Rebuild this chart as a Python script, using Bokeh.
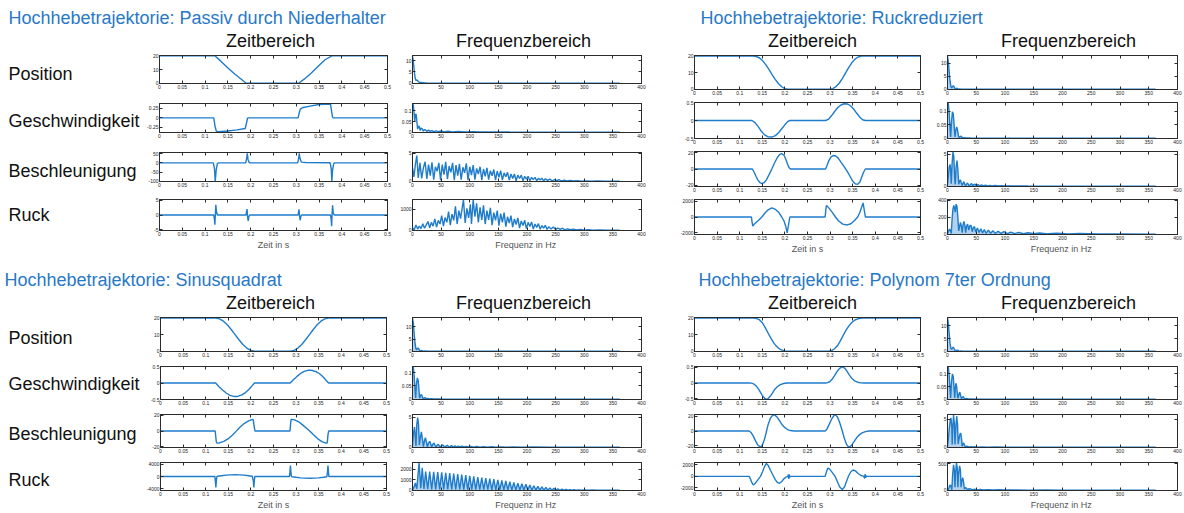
from bokeh.plotting import figure
from bokeh.layouts import row, column
from bokeh.models import (Range1d, FixedTicker, LinearAxis, Spacer, Label, CustomJSTickFormatter,
                          CustomLabelingPolicy)
from bokeh.core.properties import value
from bokeh.embed import file_html
from bokeh.resources import INLINE

FONT = "Liberation Sans"
LINE_COLOR = "#1f7ccb"
TITLE_COLOR = "#2878c8"
FRAME_COLOR = "#2b2b2b"

# ---------------- texts ----------------
TITLES_TOP = ["Hochhebetrajektorie:  Passiv durch Niederhalter", "Hochhebetrajektorie:  Ruckreduziert"]
TITLES_BOTTOM = ["Hochhebetrajektorie:  Sinusquadrat", "Hochhebetrajektorie:  Polynom 7ter Ordnung"]
HEADERS = ["Zeitbereich", "Frequenzbereich"]
ROW_LABELS = ["Position", "Geschwindigkeit", "Beschleunigung", "Ruck"]
AXIS_LABELS = ["Zeit in s", "Frequenz  in Hz"]
JERK_EXPONENT = "\u00d710\u2074"

TIME_TICKS = [0, 0.05, 0.1, 0.15, 0.2, 0.25, 0.3, 0.35, 0.4, 0.45, 0.5]
TIME_TICK_LABELS = ["0", "0.05", "0.1", "0.15", "0.2", "0.25", "0.3", "0.35", "0.4", "0.45", "0.5"]
FREQ_TICKS = [0, 50, 100, 150, 200, 250, 300, 350, 400]
FREQ_TICK_LABELS = ["0", "50", "100", "150", "200", "250", "300", "350", "400"]

# ---------------- Passiv durch Niederhalter ----------------
PASSIV_POS = [(0, 20), (0.122, 20), (0.135, 16.0), (0.15, 11.2), (0.165, 6.8), (0.18, 2.8), (0.19, 0), (0.305, 0),
              (0.318, 3.2), (0.333, 7.5), (0.348, 12.4), (0.363, 17.2), (0.378, 20), (0.5, 20)]
PASSIV_VEL = [(0, 0), (0.119, 0), (0.1215, -0.2), (0.1245, -0.35), (0.128, -0.366), (0.15, -0.345), (0.17, -0.315),
              (0.188, -0.28), (0.1905, -0.15), (0.193, -0.01), (0.195, 0), (0.304, 0), (0.3065, 0.14), (0.309, 0.23),
              (0.313, 0.265), (0.33, 0.31), (0.35, 0.35), (0.375, 0.366), (0.377, 0.2), (0.3795, 0.02), (0.381, 0), (0.5, 0)]
PASSIV_ACC = [(0, 0), (0.118, 0), (0.1205, -30), (0.1222, -100), (0.1245, -35), (0.127, -3), (0.13, 0), (0.189, 0),
              (0.1912, 25), (0.1925, 52), (0.194, 20), (0.1965, 2), (0.2, 0), (0.303, 0), (0.305, 20), (0.3065, 52),
              (0.308, 25), (0.311, 4), (0.32, 1.5), (0.374, 0.5), (0.3765, -30), (0.378, -100), (0.3795, -40),
              (0.382, -4), (0.385, 0), (0.5, 0)]
# jerk shown in units of 10^4
PASSIV_JERK = [(0, 0), (0.119, 0), (0.1205, -1.5), (0.1215, -3.3), (0.1225, 0.3), (0.1235, 3.5), (0.125, 1.0), (0.127, 0),
               (0.19, 0), (0.191, 1.3), (0.192, 2.0), (0.193, -0.3), (0.1945, -2.0), (0.196, -0.5), (0.198, 0),
               (0.304, 0), (0.305, 1.2), (0.306, 1.9), (0.307, -0.2), (0.3085, -1.8), (0.31, -0.4), (0.312, 0),
               (0.375, 0), (0.3765, -1.5), (0.3775, -3.8), (0.3785, 0.2), (0.3795, 3.3), (0.381, 0.8), (0.383, 0), (0.5, 0)]
PASSIV_POS_SPEC = [(0, 11.9), (1.5, 9.5), (3, 5.5), (4.5, 2.4), (6, 1.2), (7.5, 1.5), (9, 1.1), (11, 0.5), (13, 0.35),
                   (15, 0.4), (18, 0.2), (22, 0.15), (27, 0.08), (35, 0.05), (50, 0.03), (80, 0.01), (150, 0.005), (362, 0)]
PASSIV_VEL_SPEC = [(0, 0.133), (1.5, 0.128), (3, 0.08), (4, 0.05), (5, 0.085), (6.5, 0.083), (8, 0.04), (9, 0.015),
                   (10.5, 0.03), (12, 0.026), (13.5, 0.008), (15, 0.02), (17, 0.016), (19, 0.005), (21, 0.013), (23, 0.01),
                   (25, 0.004), (28, 0.01), (31, 0.004), (34, 0.008), (37, 0.003), (41, 0.007), (45, 0.003), (50, 0.006),
                   (55, 0.002), (62, 0.005), (70, 0.002), (80, 0.004), (92, 0.0015), (105, 0.003), (120, 0.001),
                   (140, 0.002), (170, 0.001), (220, 0.0008), (362, 0.0003)]
PASSIV_ACC_SPEC = [(0, 2.4), (2.5, 0.8), (5, 3.0), (7.5, 4.6), (10, 0.6), (13, 3.3), (16, 0.5), (19, 2.4), (22, 3.5),
                   (25, 0.4), (28, 3.0), (31, 1.0), (34, 3.4), (37, 0.3), (40, 2.6), (43, 1.8), (46, 3.3), (49, 0.2),
                   (52, 3.0), (55, 1.2), (58, 3.5), (61, 0.4), (64, 2.7), (67, 1.6), (70, 3.3), (73, 0.2), (76, 2.9),
                   (79, 1.0), (82, 3.1), (85, 0.3), (88, 2.5), (91, 1.5), (94, 3.2), (97, 0.2), (100, 2.6), (103, 1.1),
                   (106, 2.9), (109, 0.3), (112, 2.3), (115, 1.3), (118, 2.6), (121, 0.2), (124, 2.2), (127, 0.9),
                   (130, 2.4), (133, 0.3), (136, 1.9), (139, 1.0), (142, 2.1), (145, 0.2), (148, 1.8), (151, 0.7),
                   (154, 1.9), (157, 0.2), (160, 1.5), (163, 0.8), (166, 1.6), (169, 0.2), (172, 1.3), (175, 0.5),
                   (178, 1.3), (181, 0.1), (184, 1.1), (187, 0.5), (190, 1.1), (193, 0.1), (196, 0.9), (199, 0.4),
                   (202, 0.9), (205, 0.1), (208, 0.7), (211, 0.3), (214, 0.7), (217, 0.1), (220, 0.55), (223, 0.25),
                   (226, 0.55), (229, 0.05), (232, 0.45), (236, 0.15), (240, 0.4), (244, 0.05), (248, 0.3), (252, 0.1),
                   (256, 0.28), (260, 0.05), (265, 0.2), (270, 0.06), (275, 0.16), (281, 0.04), (288, 0.12), (295, 0.03),
                   (303, 0.08), (312, 0.03), (322, 0.05), (335, 0.02), (348, 0.03), (362, 0.01)]
PASSIV_JERK_SPEC = [(0, 120), (3, 30), (6, 250), (9, 60), (12, 200), (15, 80), (18, 320), (21, 100), (24, 260), (27, 420),
                    (30, 120), (33, 380), (36, 200), (39, 550), (42, 150), (45, 480), (48, 300), (51, 700), (54, 200),
                    (57, 620), (60, 380), (63, 900), (66, 250), (69, 780), (72, 480), (75, 1150), (78, 300), (81, 950),
                    (84, 560), (89, 1470), (92, 350), (95, 1050), (98, 600), (101, 1250), (103, 300), (106, 1470),
                    (109, 650), (112, 1300), (115, 380), (118, 1100), (121, 500), (124, 1200), (127, 300), (130, 950),
                    (133, 500), (136, 1080), (139, 250), (142, 850), (145, 480), (148, 950), (151, 220), (154, 800),
                    (157, 380), (160, 850), (163, 180), (166, 650), (169, 350), (172, 700), (175, 150), (178, 550),
                    (181, 280), (184, 600), (187, 100), (190, 450), (193, 230), (196, 480), (199, 80), (202, 380),
                    (205, 180), (208, 400), (211, 60), (214, 300), (217, 140), (220, 320), (223, 50), (226, 230),
                    (229, 100), (232, 240), (235, 40), (238, 170), (242, 60), (246, 160), (250, 30), (254, 110),
                    (258, 40), (262, 100), (266, 20), (271, 70), (276, 25), (281, 55), (287, 15), (293, 40), (300, 10),
                    (307, 25), (316, 10), (326, 15), (340, 8), (362, 5)]

# ---------------- Ruckreduziert ----------------
RUCK_POS = [(0, 20), (0.13, 20), (0.137, 19.7), (0.144, 18.8), (0.151, 17.1), (0.158, 14.7), (0.165, 11.8), (0.172, 8.7),
            (0.179, 5.8), (0.186, 3.3), (0.193, 1.5), (0.2, 0.4), (0.207, 0), (0.299, 0), (0.306, 0.4), (0.313, 1.6),
            (0.32, 3.6), (0.327, 6.4), (0.334, 9.7), (0.341, 13.0), (0.348, 15.9), (0.355, 18.1), (0.362, 19.4),
            (0.37, 20), (0.5, 20)]
RUCK_VEL = [(0, 0), (0.127, 0), (0.134, -0.06), (0.141, -0.17), (0.148, -0.3), (0.155, -0.4), (0.163, -0.455),
            (0.171, -0.46), (0.179, -0.42), (0.186, -0.34), (0.193, -0.23), (0.2, -0.12), (0.206, -0.03), (0.211, 0),
            (0.29, 0), (0.296, 0.03), (0.303, 0.13), (0.31, 0.25), (0.317, 0.36), (0.324, 0.43), (0.331, 0.465),
            (0.338, 0.46), (0.345, 0.41), (0.352, 0.32), (0.359, 0.2), (0.366, 0.09), (0.372, 0.02), (0.378, 0), (0.5, 0)]
RUCK_ACC = [(0, 0), (0.128, 0), (0.132, -4), (0.136, -9), (0.14, -13.5), (0.145, -17), (0.149, -18), (0.154, -17),
            (0.159, -13.5), (0.165, -7), (0.171, 0), (0.177, 7.5), (0.183, 14), (0.188, 17.8), (0.193, 19), (0.198, 17),
            (0.202, 12), (0.206, 6), (0.209, 2), (0.212, 0), (0.29, 0), (0.293, 4), (0.297, 10), (0.302, 15),
            (0.307, 16.7), (0.312, 16.5), (0.318, 13.5), (0.324, 8.5), (0.331, 3), (0.338, -3), (0.344, -9),
            (0.35, -15), (0.356, -18.5), (0.361, -19), (0.366, -16), (0.37, -10), (0.374, -4), (0.378, 0), (0.5, 0)]
RUCK_JERK = [(0, 0), (0.126, 0), (0.1275, -700), (0.129, -1150), (0.132, -900), (0.137, -650), (0.143, -350), (0.149, 0),
             (0.156, 500), (0.163, 900), (0.171, 1150), (0.178, 1000), (0.186, 600), (0.193, 0), (0.198, -500),
             (0.202, -1200), (0.205, -2000), (0.208, -1000), (0.211, 0), (0.289, 0), (0.2905, 900), (0.292, 1460),
             (0.297, 1150), (0.304, 650), (0.312, 0), (0.319, -500), (0.328, -900), (0.338, -1000), (0.346, -850),
             (0.354, -450), (0.361, 0), (0.366, 600), (0.37, 1300), (0.373, 1770), (0.3755, 900), (0.378, 0), (0.5, 0)]
RUCK_POS_SPEC = [(0, 12.8), (1.5, 10.5), (3, 6.5), (4.5, 3), (6, 1), (7.5, 0.5), (9, 1.2), (10.5, 1.3), (12, 0.7),
                 (13.5, 0.15), (15.5, 0.35), (17, 0.3), (19, 0.05), (21, 0.08), (24, 0.02), (30, 0.02), (40, 0.01), (362, 0)]
RUCK_VEL_SPEC = [(0, 0.13), (1.5, 0.128), (3, 0.09), (4.5, 0.035), (5.5, 0.005), (7, 0.06), (8.5, 0.098), (10, 0.09),
                 (11.5, 0.05), (13, 0.005), (14.5, 0.03), (16, 0.042), (17.5, 0.03), (19, 0.008), (20.5, 0.002),
                 (22, 0.006), (23.5, 0.008), (25, 0.004), (27, 0.001), (29, 0.002), (32, 0.001), (40, 0.0008),
                 (60, 0.0005), (100, 0.0003), (362, 0.0001)]
RUCK_ACC_SPEC = [(0, 0.3), (1.5, 1.6), (3, 3.0), (4.5, 3.4), (5.5, 2.4), (6.5, 0.4), (8, 3.5), (9.5, 5.3), (11, 4.6),
                 (12.5, 1.2), (13.5, 0.3), (15, 3.0), (16.5, 4.0), (18, 2.6), (19.5, 0.3), (21, 0.8), (22.5, 1.0),
                 (24, 0.5), (25.5, 0.1), (27, 0.5), (28.5, 0.7), (30, 0.3), (31.5, 0.05), (33, 0.35), (35, 0.5),
                 (36.5, 0.2), (38, 0.04), (40, 0.3), (42, 0.4), (44, 0.1), (46, 0.25), (48, 0.32), (50, 0.08), (53, 0.25),
                 (56, 0.06), (59, 0.2), (62, 0.05), (66, 0.16), (70, 0.04), (74, 0.13), (78, 0.03), (83, 0.11),
                 (88, 0.03), (94, 0.08), (100, 0.03), (110, 0.06), (125, 0.04), (140, 0.03), (170, 0.02), (220, 0.01),
                 (300, 0.005), (362, 0)]
RUCK_JERK_SPEC = [(0, 10), (2, 40), (3.5, 60), (5, 45), (6.5, 10), (8, 180), (9.5, 300), (11, 340), (12.5, 300),
                  (13.5, 260), (15, 355), (16.5, 330), (18, 200), (19.5, 40), (21, 90), (22.5, 140), (24, 100), (25.5, 20),
                  (27, 110), (28.5, 150), (30, 110), (31.5, 20), (33, 90), (35, 120), (37, 50), (39, 100), (41, 105),
                  (43, 30), (45, 80), (47, 90), (49, 25), (52, 75), (55, 20), (58, 65), (61, 15), (64, 55), (67, 12),
                  (71, 48), (75, 12), (79, 42), (83, 10), (88, 36), (93, 10), (98, 30), (104, 8), (110, 26), (117, 7),
                  (124, 22), (132, 6), (140, 18), (150, 6), (160, 15), (175, 5), (190, 11), (210, 4), (230, 8),
                  (260, 4), (300, 4), (362, 2)]

# ---------------- Sinusquadrat ----------------
SQ_POS = [(0, 20), (0.122, 20), (0.1306, 19.5), (0.1392, 18.1), (0.1478, 15.9), (0.1564, 13.1), (0.165, 10),
          (0.1736, 6.9), (0.1822, 4.1), (0.1908, 1.9), (0.1994, 0.5), (0.208, 0), (0.287, 0), (0.2955, 0.5),
          (0.304, 1.9), (0.3125, 4.1), (0.321, 6.9), (0.3295, 10), (0.338, 13.1), (0.3465, 15.9), (0.355, 18.1),
          (0.3635, 19.5), (0.372, 20), (0.5, 20)]
SQ_VEL = [(0, 0), (0.122, 0), (0.13, -0.12), (0.138, -0.22), (0.146, -0.31), (0.154, -0.375), (0.162, -0.405),
          (0.166, -0.41), (0.172, -0.4), (0.18, -0.36), (0.188, -0.29), (0.196, -0.19), (0.203, -0.08), (0.208, 0),
          (0.287, 0), (0.294, 0.1), (0.302, 0.2), (0.31, 0.29), (0.318, 0.35), (0.326, 0.385), (0.33, 0.39),
          (0.336, 0.38), (0.344, 0.345), (0.352, 0.28), (0.36, 0.18), (0.367, 0.07), (0.372, 0), (0.5, 0)]
SQ_ACC = [(0, 0), (0.121, 0), (0.1235, -14), (0.125, -15.5), (0.13, -15.2), (0.14, -13.3), (0.15, -9.8), (0.16, -4.8),
          (0.167, -0.5), (0.175, 4.5), (0.185, 9.5), (0.195, 13), (0.202, 14.6), (0.205, 14.5), (0.2075, 5),
          (0.209, 0), (0.2865, 0), (0.288, 10), (0.289, 14.8), (0.295, 14.5), (0.305, 12), (0.315, 7.5),
          (0.325, 2.5), (0.33, 0), (0.338, -4.5), (0.348, -10), (0.358, -13.8), (0.366, -15.5), (0.369, -15),
          (0.3705, -5), (0.372, 0), (0.5, 0)]
SQ_JERK = [(0, 0), (0.1205, 0), (0.1215, -1800), (0.1225, -3500), (0.1235, -1500), (0.1245, -100), (0.126, 80),
           (0.135, 250), (0.145, 430), (0.155, 530), (0.165, 560), (0.175, 530), (0.185, 430), (0.195, 250),
           (0.203, 100), (0.2055, -1500), (0.2065, -3500), (0.2075, -1600), (0.2085, 0), (0.2855, 0), (0.2865, 1800),
           (0.2875, 3500), (0.2885, 1500), (0.2895, 100), (0.291, -80), (0.3, -250), (0.31, -430), (0.32, -530),
           (0.33, -560), (0.34, -530), (0.35, -430), (0.36, -250), (0.368, -100), (0.3695, 1500), (0.3705, 3500),
           (0.3715, 1600), (0.3725, 0), (0.5, 0)]
SQ_POS_SPEC = [(0, 13.8), (1.5, 11.5), (3, 7), (4.5, 3.2), (6, 1.0), (7.5, 0.6), (9, 1.3), (10.5, 1.2), (12, 0.5),
               (14, 0.15), (15.5, 0.3), (17, 0.2), (19, 0.05), (22, 0.08), (26, 0.02), (35, 0.02), (60, 0.01), (362, 0)]
SQ_VEL_SPEC = [(0, 0.122), (1.5, 0.12), (3, 0.085), (4.5, 0.03), (5.5, 0.005), (7, 0.06), (8.5, 0.08), (10, 0.07),
               (11.5, 0.03), (12.5, 0.004), (14, 0.014), (15.5, 0.018), (17, 0.01), (18.5, 0.001), (20.5, 0.005),
               (22, 0.006), (24, 0.002), (27, 0.003), (30, 0.001), (33, 0.002), (37, 0.0008), (41, 0.0015),
               (50, 0.0008), (70, 0.0005), (100, 0.0003), (362, 0.0001)]
SQ_ACC_SPEC = [(0, 0.2), (1.5, 2.2), (3.5, 3.4), (5, 1.5), (6, 0.2), (7.5, 3.8), (9, 5.0), (10.5, 3.9), (12, 0.4),
               (13.5, 1.5), (15.5, 2.6), (17.5, 1.3), (19, 0.1), (21, 1.1), (22.5, 1.6), (24.5, 0.8), (26, 0.05),
               (28, 0.7), (30, 1.0), (32, 0.5), (33.5, 0.05), (35.5, 0.5), (37.5, 0.7), (39.5, 0.3), (41, 0.04),
               (43, 0.35), (45, 0.5), (47, 0.2), (48.5, 0.03), (51, 0.3), (53, 0.4), (55, 0.15), (57, 0.02), (59, 0.25),
               (61, 0.33), (63, 0.1), (65, 0.02), (68, 0.28), (71, 0.08), (74, 0.24), (77, 0.04), (80, 0.21), (83, 0.05),
               (86, 0.19), (90, 0.04), (94, 0.16), (98, 0.04), (102, 0.14), (107, 0.03), (112, 0.12), (118, 0.03),
               (124, 0.1), (131, 0.03), (138, 0.08), (146, 0.02), (155, 0.07), (165, 0.02), (175, 0.05), (190, 0.02),
               (210, 0.04), (240, 0.015), (280, 0.01), (362, 0)]
SQ_JERK_SPEC = [(0, 20), (2.5, 300), (5, 700), (7.5, 150), (11.5, 2640), (14.5, 200), (17, 2150), (20, 120), (23, 1800),
                (26.5, 100), (30, 1780), (33.5, 90), (37, 1760), (40.5, 90), (44, 1740), (47.5, 85), (51, 1720),
                (54.5, 85), (58, 1680), (61.5, 80), (65, 1640), (68.5, 80), (72, 1600), (75.5, 75), (79, 1550),
                (82.5, 75), (86, 1500), (89.5, 70), (93, 1450), (96.5, 70), (100, 1390), (103.5, 65), (107, 1330),
                (110.5, 60), (114, 1270), (117.5, 60), (121, 1220), (124.5, 55), (128, 1170), (131.5, 55), (135, 1110),
                (138.5, 50), (142, 1060), (145.5, 50), (149, 1000), (152.5, 45), (156, 950), (159.5, 45), (163, 890),
                (166.5, 40), (170, 820), (173.5, 40), (177, 750), (180.5, 35), (184, 690), (187.5, 30), (191, 630),
                (194.5, 30), (198, 570), (201.5, 25), (205, 500), (208.5, 25), (212, 440), (215.5, 20), (219, 380),
                (222.5, 18), (226, 330), (229.5, 15), (233, 280), (236.5, 12), (240, 230), (243.5, 10), (247, 190),
                (250.5, 8), (254, 150), (257.5, 6), (261, 120), (264.5, 5), (268, 90), (271.5, 4), (275, 70), (278.5, 4),
                (282, 55), (286, 3), (290, 45), (295, 3), (300, 35), (307, 3), (315, 25), (322, 2), (330, 20),
                (337, 2), (345, 15), (352, 2), (362, 12)]

# ---------------- Polynom 7ter Ordnung ----------------
POLY_POS = [(0, 20), (0.121, 20), (0.13, 19.95), (0.138, 19.6), (0.144, 18.8), (0.15, 17.2), (0.155, 15), (0.16, 12.4),
            (0.165, 9.8), (0.17, 7.4), (0.175, 5.2), (0.18, 3.4), (0.186, 1.8), (0.192, 0.8), (0.2, 0.2), (0.21, 0),
            (0.289, 0), (0.297, 0.1), (0.304, 0.5), (0.31, 1.5), (0.316, 3.3), (0.322, 5.9), (0.327, 8.5),
            (0.332, 11.1), (0.337, 13.4), (0.342, 15.4), (0.348, 17.3), (0.355, 18.8), (0.363, 19.6), (0.372, 19.95),
            (0.38, 20), (0.5, 20)]
POLY_VEL = [(0, 0), (0.121, 0), (0.126, -0.005), (0.131, -0.03), (0.136, -0.09), (0.141, -0.18), (0.146, -0.3),
            (0.15, -0.4), (0.155, -0.49), (0.159, -0.52), (0.163, -0.5), (0.168, -0.42), (0.173, -0.31), (0.178, -0.2),
            (0.183, -0.12), (0.19, -0.05), (0.197, -0.015), (0.205, 0), (0.289, 0), (0.294, 0.01), (0.299, 0.04),
            (0.304, 0.11), (0.309, 0.22), (0.315, 0.36), (0.321, 0.47), (0.327, 0.52), (0.332, 0.48), (0.337, 0.39),
            (0.342, 0.27), (0.348, 0.15), (0.354, 0.07), (0.361, 0.025), (0.368, 0.005), (0.375, 0), (0.5, 0)]
POLY_ACC = [(0, 0), (0.121, 0), (0.125, -2), (0.13, -7), (0.135, -13.5), (0.14, -19), (0.146, -22), (0.15, -19.5),
            (0.155, -11), (0.159, -1), (0.163, 9), (0.168, 17.5), (0.173, 21.5), (0.177, 22), (0.182, 19.5),
            (0.188, 14), (0.194, 8.5), (0.2, 4.5), (0.206, 2), (0.212, 0.6), (0.22, 0), (0.289, 0), (0.293, 2.5),
            (0.298, 9), (0.304, 17), (0.309, 21.5), (0.312, 22), (0.316, 19.5), (0.321, 12), (0.327, 0), (0.332, -11),
            (0.337, -19), (0.342, -22), (0.347, -20), (0.353, -14.5), (0.359, -9), (0.365, -5), (0.371, -2.5),
            (0.378, -0.8), (0.386, 0), (0.5, 0)]
POLY_JERK = [(0, 0), (0.121, 0), (0.124, -500), (0.127, -1100), (0.13, -1500), (0.134, -1250), (0.14, -600), (0.146, 0),
             (0.151, 900), (0.155, 1700), (0.159, 2250), (0.163, 1900), (0.168, 1050), (0.174, 150), (0.179, -600),
             (0.184, -1100), (0.188, -1200), (0.193, -900), (0.198, -400), (0.203, -100), (0.206, -50), (0.2075, 300),
             (0.2085, -450), (0.2095, 350), (0.2105, -150), (0.212, 0), (0.289, 0), (0.292, 800), (0.295, 1450),
             (0.299, 1250), (0.305, 650), (0.311, 0), (0.316, -900), (0.321, -1800), (0.327, -2300), (0.332, -1800),
             (0.337, -700), (0.341, 100), (0.346, 800), (0.351, 1100), (0.356, 950), (0.362, 500), (0.368, 150),
             (0.374, 50), (0.3765, -350), (0.3775, 400), (0.3785, -250), (0.3795, 100), (0.381, 0), (0.5, 0)]
POLY_POS_SPEC = [(0, 13.25), (1.5, 11), (3, 6.8), (4.5, 3), (6, 1.0), (7.5, 0.8), (9, 1.5), (10.5, 1.5), (12, 0.8),
                 (13.5, 0.2), (15.5, 0.35), (17.5, 0.4), (19.5, 0.15), (21, 0.05), (23, 0.08), (27, 0.03), (35, 0.02),
                 (60, 0.01), (362, 0)]
POLY_VEL_SPEC = [(0, 0.128), (1.5, 0.126), (3, 0.09), (4.5, 0.035), (5.5, 0.005), (7, 0.07), (8.5, 0.1), (10, 0.09),
                 (11.5, 0.04), (12.5, 0.005), (13.5, 0.04), (14.5, 0.063), (16, 0.05), (17.5, 0.01), (18.5, 0.004),
                 (20, 0.022), (21.5, 0.028), (23, 0.012), (24.5, 0.002), (26, 0.008), (27.5, 0.01), (29, 0.004),
                 (31, 0.001), (33, 0.003), (36, 0.001), (40, 0.001), (60, 0.0005), (100, 0.0003), (362, 0.0001)]
POLY_ACC_SPEC = [(0, 0.2), (1.5, 1.5), (3, 3.2), (4.5, 4.6), (6, 5.2), (7.5, 3.5), (8.2, 0.5), (9, 3.0), (10.5, 5.7),
                 (12, 4.2), (13, 0.5), (14.5, 3.5), (16, 5.5), (17.5, 4.0), (18.5, 0.6), (20, 1.5), (21.5, 2.3),
                 (23, 2.5), (24.5, 1.4), (25.5, 0.2), (27, 0.6), (28, 0.8), (29.5, 0.4), (31, 0.05), (33, 0.2),
                 (35, 0.15), (37, 0.03), (40, 0.12), (44, 0.05), (48, 0.08), (53, 0.03), (60, 0.06), (70, 0.03),
                 (85, 0.04), (100, 0.02), (130, 0.02), (180, 0.01), (250, 0.01), (362, 0)]
POLY_JERK_SPEC = [(0, 5), (2, 30), (3.5, 80), (5, 100), (6.5, 60), (7.5, 10), (9, 300), (10.5, 480), (12, 380), (13, 60),
                  (14, 300), (15.5, 520), (17, 420), (18, 60), (19, 280), (21, 460), (22.5, 380), (23.5, 60), (25, 180),
                  (26.5, 240), (28, 150), (29.5, 20), (31, 50), (33, 40), (35, 10), (37, 30), (40, 25), (43, 8),
                  (47, 20), (52, 8), (57, 15), (63, 6), (70, 12), (80, 5), (90, 9), (100, 5), (120, 7), (140, 4),
                  (170, 5), (200, 3), (250, 3), (300, 2), (362, 1)]

# ---------------- y axes (ranges, ticks, tick labels) per panel ----------------
PASSIV_YRANGES = [(-0.15, 20.3), (-0.385, 0.378), (-101, 56), (-5.3, 5.3)]
PASSIV_YTICKS = [[0, 10, 20], [-0.25, 0, 0.25], [-100, -50, 0, 50], [-5, 0, 5]]
PASSIV_YLABELS = [["0", "10", "20"], ["-0.25", "0", "0.25"], ["-100", "-50", "0", "50"], ["-5", "0", "5"]]
PASSIV_FRANGES = [(-0.1, 12.2), (-0.001, 0.135), (-0.04, 5.15), (-10, 1480)]
PASSIV_FTICKS = [[0, 5, 10], [0, 0.05, 0.1], [0, 5], [0, 1000]]
PASSIV_FLABELS = [["0", "5", "10"], ["0", "0.05", "0.1"], ["0", "5"], ["0", "1000"]]

RUCK_YRANGES = [(-0.15, 20.3), (-0.5, 0.5), (-21.7, 21.7), (-2200, 2200)]
RUCK_YTICKS = [[0, 10, 20], [-0.5, 0, 0.5], [-20, 0, 20], [-2000, 0, 2000]]
RUCK_YLABELS = [["0", "10", "20"], ["-0.5", "0", "0.5"], ["-20", "0", "20"], ["-2000", "0", "2000"]]
RUCK_FRANGES = [(-0.1, 13.0), (-0.001, 0.132), (-0.04, 5.4), (-3, 410)]
RUCK_FTICKS = [[0, 5, 10], [0, 0.05, 0.1], [0, 5], [0, 200, 400]]
RUCK_FLABELS = [["0", "5", "10"], ["0", "0.05", "0.1"], ["0", "5"], ["0", "200", "400"]]

SQ_YRANGES = [(-0.15, 20.3), (-0.5, 0.5), (-21, 21), (-4500, 4500)]
SQ_YTICKS = [[0, 10, 20], [-0.5, 0, 0.5], [-20, 0, 20], [-4000, 0, 4000]]
SQ_YLABELS = [["0", "10", "20"], ["-0.5", "0", "0.5"], ["-20", "0", "20"], ["-4000", "0", "4000"]]
SQ_FRANGES = [(-0.1, 13.9), (-0.001, 0.123), (-0.04, 5.5), (-20, 2660)]
SQ_FTICKS = [[0, 5, 10], [0, 0.05, 0.1], [0, 5], [0, 1000, 2000]]
SQ_FLABELS = [["0", "5", "10"], ["0", "0.05", "0.1"], ["0", "5"], ["0", "1000", "2000"]]

POLY_YRANGES = [(-0.15, 20.3), (-0.53, 0.53), (-22.5, 22.5), (-2450, 2400)]
POLY_YTICKS = [[0, 10, 20], [-0.5, 0, 0.5], [-20, 0, 20], [-2000, 0, 2000]]
POLY_YLABELS = [["0", "10", "20"], ["-0.5", "0", "0.5"], ["-20", "0", "20"], ["-2000", "0", "2000"]]
POLY_FRANGES = [(-0.1, 13.3), (-0.001, 0.129), (-0.04, 5.8), (-4, 525)]
POLY_FTICKS = [[0, 5, 10], [0, 0.05, 0.1], [0, 5], [0, 500]]
POLY_FLABELS = [["0", "5", "10"], ["0", "0.05", "0.1"], ["0", "5"], ["0", "500"]]

# ---------------- layout geometry (top border, frame height, bottom border) ----------------
GEOM_TOP_L = [(1, 31, 16), (2, 31, 16), (2, 31, 11), (7, 31, 26)]
GEOM_TOP_R = [(3, 35, 9), (4, 36, 9), (4, 35, 9), (3, 36, 22)]
GEOM_BOT = [(3, 35, 11), (2, 35, 11), (2, 35, 11), (2, 35, 17)]

HIDE_LABELS_CODE = """
try { for (const i of Array.from(indices)) { indices.unset(i) } } catch (e) {}
return indices
"""


def tick_formatter(ticks, labels):
    return CustomJSTickFormatter(args=dict(tv=ticks, tl=labels), code="""
        for (let i = 0; i < tv.length; i++) {
            if (Math.abs(tv[i] - tick) <= 1e-9 * Math.max(1, Math.abs(tv[i]))) { return tl[i]; }
        }
        return '';
    """)


def make_axis(ticks, labels, show_labels):
    ax = LinearAxis(ticker=FixedTicker(ticks=ticks), formatter=tick_formatter(ticks, labels))
    ax.axis_line_color = FRAME_COLOR
    ax.axis_line_width = 1
    ax.major_tick_in = 3
    ax.major_tick_out = 0
    ax.major_tick_line_color = FRAME_COLOR
    ax.minor_tick_line_color = None
    ax.major_label_text_font = FONT
    ax.major_label_text_color = "#1e1e1e"
    ax.major_label_standoff = 1
    ax.major_label_text_font_size = "5px"
    if not show_labels:
        ax.major_label_policy = CustomLabelingPolicy(code=HIDE_LABELS_CODE)
        ax.major_label_text_font_size = "1px"
        ax.major_label_standoff = 0
    return ax


def small_plot(curve, domain, yr, yt, yl, w, lb, rb, geom, xlabel=None, fill=False, note=None):
    tb, fh, bb = geom
    if domain == "time":
        xr, xt, xl = (0, 0.5), TIME_TICKS, TIME_TICK_LABELS
    else:
        xr, xt, xl = (0, 400), FREQ_TICKS, FREQ_TICK_LABELS
    p = figure(width=w, height=tb + fh + bb, x_range=Range1d(*xr), y_range=Range1d(*yr),
               output_backend="svg", toolbar_location=None, title=None,
               x_axis_type=None, y_axis_type=None,
               min_border_left=lb, min_border_right=rb, min_border_top=tb, min_border_bottom=bb)
    p.outline_line_color = FRAME_COLOR
    p.outline_line_width = 1
    p.background_fill_color = "white"
    p.border_fill_color = "white"
    xs = [a for a, _ in curve]
    ys = [b for _, b in curve]
    if fill:
        p.varea(x=xs, y1=[0] * len(xs), y2=ys, fill_color=LINE_COLOR, fill_alpha=0.35)
    p.line(xs, ys, line_color=LINE_COLOR, line_width=1.4)
    bottom = make_axis(xt, xl, True)
    if xlabel:
        bottom.axis_label = xlabel
        bottom.axis_label_text_font = FONT
        bottom.axis_label_text_font_size = "9px"
        bottom.axis_label_text_font_style = "normal"
        bottom.axis_label_text_color = "#555555"
        bottom.axis_label_standoff = 1
    p.add_layout(bottom, "below")
    p.add_layout(make_axis(yt, yl, True), "left")
    p.add_layout(make_axis(xt, xl, False), "above")
    p.add_layout(make_axis(yt, yl, False), "right")
    if note:
        p.add_layout(Label(x=xr[0], y=yr[1], text=note, text_font=FONT, text_font_size="5px",
                           text_color="#1e1e1e", text_baseline="bottom", x_offset=1, y_offset=1))
    return p


def plot_column(curves, domain, yranges, yticks, ylabels, w, lb, rb, geoms, fill=False, note_row=None, note=None):
    figs = []
    for i in range(4):
        xlabel = None
        if i == 3:
            xlabel = AXIS_LABELS[0] if domain == "time" else AXIS_LABELS[1]
        figs.append(small_plot(curves[i], domain, yranges[i], yticks[i], ylabels[i], w, lb, rb, geoms[i],
                               xlabel=xlabel, fill=fill, note=note if i == note_row else None))
    return column(figs)


def text_figure(w, h, items, size="18px"):
    p = figure(width=w, height=h, x_range=Range1d(0, w), y_range=Range1d(h, 0),
               output_backend="svg", toolbar_location=None, title=None,
               x_axis_type=None, y_axis_type=None, min_border=0)
    p.outline_line_color = None
    p.background_fill_color = "white"
    p.border_fill_color = "white"
    for (x, y, txt, align, color) in items:
        p.text(x=[x], y=[y], text=[txt], text_font=value(FONT), text_font_size=size,
               text_align=align, text_baseline="middle", text_color=color)
    return p


W_LABEL, W_TIME_L, W_FREQ_L, W_GAP, W_TIME_R, W_FREQ_R = 143, 249, 254, 31, 249, 256
H_A, H_B, H_C, H_D = 51, 205, 57, 199

# ---------------- top half ----------------
band_a = text_figure(1182, H_A, [
    (8, 17, TITLES_TOP[0], "left", TITLE_COLOR),
    (700, 17, TITLES_TOP[1], "left", TITLE_COLOR),
    (270, 40, HEADERS[0], "center", "#111111"),
    (523, 40, HEADERS[1], "center", "#111111"),
    (812, 40, HEADERS[0], "center", "#111111"),
    (1068, 40, HEADERS[1], "center", "#111111"),
])
labels_top = text_figure(W_LABEL, H_B, [
    (8, 22, ROW_LABELS[0], "left", "#111111"),
    (8, 69, ROW_LABELS[1], "left", "#111111"),
    (8, 119, ROW_LABELS[2], "left", "#111111"),
    (8, 163, ROW_LABELS[3], "left", "#111111"),
])
band_b = row(
    labels_top,
    plot_column([PASSIV_POS, PASSIV_VEL, PASSIV_ACC, PASSIV_JERK], "time", PASSIV_YRANGES, PASSIV_YTICKS,
                PASSIV_YLABELS, W_TIME_L, 16, 3, GEOM_TOP_L, note_row=3, note=JERK_EXPONENT),
    plot_column([PASSIV_POS_SPEC, PASSIV_VEL_SPEC, PASSIV_ACC_SPEC, PASSIV_JERK_SPEC], "freq", PASSIV_FRANGES,
                PASSIV_FTICKS, PASSIV_FLABELS, W_FREQ_L, 20, 4, GEOM_TOP_L),
    Spacer(width=W_GAP, height=H_B),
    plot_column([RUCK_POS, RUCK_VEL, RUCK_ACC, RUCK_JERK], "time", RUCK_YRANGES, RUCK_YTICKS, RUCK_YLABELS,
                W_TIME_R, 16, 3, GEOM_TOP_R),
    plot_column([RUCK_POS_SPEC, RUCK_VEL_SPEC, RUCK_ACC_SPEC, RUCK_JERK_SPEC], "freq", RUCK_FRANGES, RUCK_FTICKS,
                RUCK_FLABELS, W_FREQ_R, 21, 5, GEOM_TOP_R, fill=True),
)

# ---------------- bottom half ----------------
band_c = text_figure(1182, H_C, [
    (4, 23, TITLES_BOTTOM[0], "left", TITLE_COLOR),
    (698, 23, TITLES_BOTTOM[1], "left", TITLE_COLOR),
    (270, 46, HEADERS[0], "center", "#111111"),
    (523, 46, HEADERS[1], "center", "#111111"),
    (812, 46, HEADERS[0], "center", "#111111"),
    (1068, 46, HEADERS[1], "center", "#111111"),
])
labels_bot = text_figure(W_LABEL, H_D, [
    (8, 24, ROW_LABELS[0], "left", "#111111"),
    (8, 70, ROW_LABELS[1], "left", "#111111"),
    (8, 120, ROW_LABELS[2], "left", "#111111"),
    (8, 166, ROW_LABELS[3], "left", "#111111"),
])
band_d = row(
    labels_bot,
    plot_column([SQ_POS, SQ_VEL, SQ_ACC, SQ_JERK], "time", SQ_YRANGES, SQ_YTICKS, SQ_YLABELS,
                W_TIME_L, 16, 3, GEOM_BOT),
    plot_column([SQ_POS_SPEC, SQ_VEL_SPEC, SQ_ACC_SPEC, SQ_JERK_SPEC], "freq", SQ_FRANGES, SQ_FTICKS, SQ_FLABELS,
                W_FREQ_L, 20, 4, GEOM_BOT, fill=True),
    Spacer(width=W_GAP, height=H_D),
    plot_column([POLY_POS, POLY_VEL, POLY_ACC, POLY_JERK], "time", POLY_YRANGES, POLY_YTICKS, POLY_YLABELS,
                W_TIME_R, 16, 3, GEOM_BOT),
    plot_column([POLY_POS_SPEC, POLY_VEL_SPEC, POLY_ACC_SPEC, POLY_JERK_SPEC], "freq", POLY_FRANGES, POLY_FTICKS,
                POLY_FLABELS, W_FREQ_R, 21, 5, GEOM_BOT, fill=True),
)

layout = column(band_a, band_b, band_c, band_d)

with open("out.html", "w") as f:
    f.write(file_html(layout, INLINE))
